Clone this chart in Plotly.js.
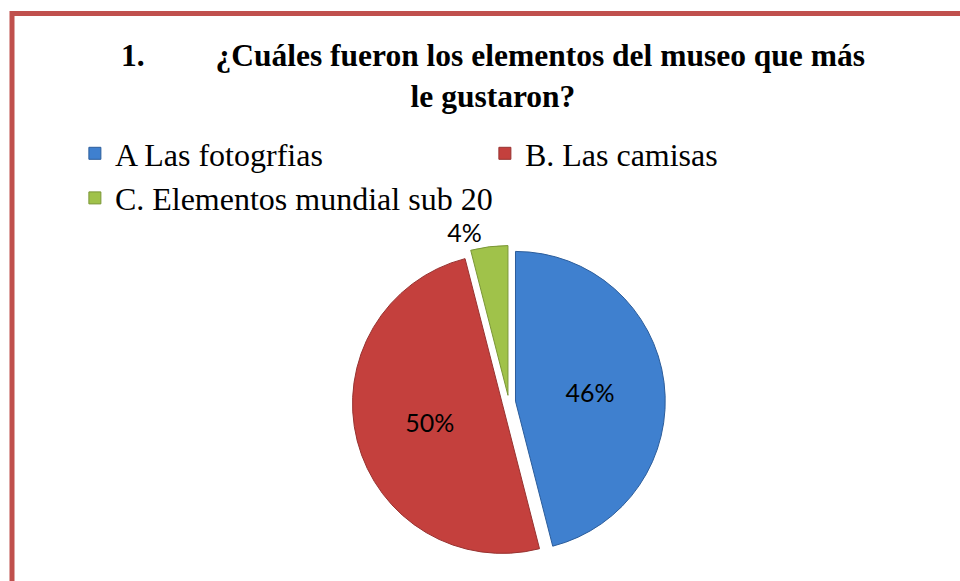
<!DOCTYPE html>
<html>
<head>
<meta charset="utf-8">
<script src="https://cdn.plot.ly/plotly-3.0.1.min.js"></script>
<style>html,body{margin:0;padding:0;background:#fff;}#chart{width:960px;height:581px;}</style>
</head>
<body>
<div id="chart"></div>
<script>
const categories = ["A Las fotogrfias", "B. Las camisas", "C. Elementos mundial sub 20"];
const values = [46, 50, 4];
const sliceColors = ["#3f80cf", "#c4403d", "#a0c24a"];
const lineColors = ["#2c5d9b", "#973230", "#7a9636"];
const textPositions = ["inside", "inside", "outside"];
const titleText = "1.\u00a0\u00a0\u00a0\u00a0\u00a0\u00a0\u00a0\u00a0\u00a0¿Cuáles fueron los elementos del museo que más<br>le gustaron?";

const serif = "Liberation Serif";
const sans = "Lato";

const trace = {
  type: "pie",
  labels: categories,
  values: values,
  sort: false,
  direction: "clockwise",
  rotation: 0,
  pull: [0.045, 0.045, 0.045],
  marker: { colors: sliceColors, line: { color: lineColors, width: 1 } },
  textinfo: "percent",
  textposition: textPositions,
  insidetextorientation: "horizontal",
  textfont: { family: sans, size: 25, color: "#000" },
  outsidetextfont: { family: sans, size: 25, color: "#000" },
  insidetextfont: { family: sans, size: 25, color: "#000" },
  domain: { x: [0.367, 0.693], y: [0.0387, 0.5775] },
  hoverinfo: "label+percent"
};

const layout = {
  width: 960,
  height: 581,
  margin: { l: 0, r: 0, t: 0, b: 0 },
  paper_bgcolor: "#fff",
  plot_bgcolor: "#fff",
  title: {
    text: titleText,
    font: { family: serif, size: 31.5, color: "#000", weight: "bold" },
    x: 0.5135, xanchor: "center", xref: "paper",
    y: 1 - 66 / 581, yanchor: "top", yref: "container"
  },
  showlegend: true,
  legend: {
    orientation: "h",
    x: 0.078, xanchor: "left",
    y: 1 - 126 / 581, yanchor: "top",
    bgcolor: "rgba(0,0,0,0)",
    font: { family: serif, size: 32, color: "#000" },
    entrywidth: 365,
    entrywidthmode: "pixels",
    itemwidth: 30,
    tracegroupgap: 0,
    traceorder: "normal"
  },
  shapes: [{
    type: "rect", xref: "paper", yref: "paper",
    x0: 12 / 960, x1: 1.05, y0: -0.05, y1: 1 - 13.5 / 581,
    line: { color: "#c0504d", width: 5 }, fillcolor: "rgba(0,0,0,0)", layer: "above"
  }]
};

Plotly.newPlot("chart", [trace], layout, { displayModeBar: false, staticPlot: true });
</script>
</body>
</html>
